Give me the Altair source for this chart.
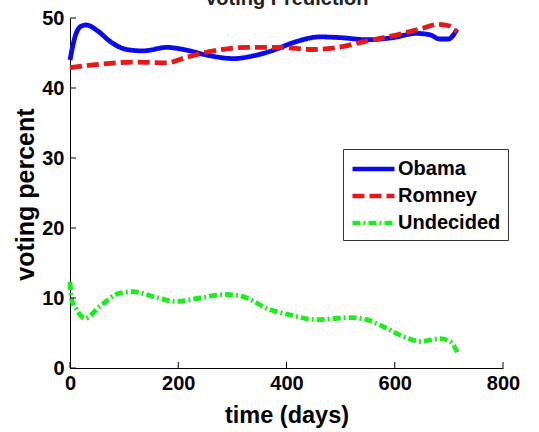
import altair as alt
import pandas as pd

# Poll-based voting prediction over time
obama_days = [0, 10, 20, 30, 52, 75, 105, 135, 179, 216, 253, 302, 339, 376, 413,
              462, 499, 548, 597, 640, 665, 683, 699, 715]
obama_pct = [44.0, 47.5, 48.8, 49.0, 48.1, 46.6, 45.5, 45.3, 45.8, 45.4, 44.7, 44.2,
             44.6, 45.4, 46.5, 47.3, 47.2, 46.9, 47.2, 47.8, 47.6, 47.0, 47.0, 48.4]

romney_days = [0, 55, 117, 179, 216, 265, 327, 388, 449, 486, 548, 610, 650, 680,
               700, 715]
romney_pct = [42.9, 43.4, 43.7, 43.6, 44.4, 45.3, 45.8, 45.8, 45.5, 45.7, 46.7, 47.7,
              48.5, 49.1, 48.9, 48.0]

undecided_days = [0, 3, 11, 28, 55, 92, 117, 154, 197, 240, 290, 327, 364, 406, 456,
                  517, 548, 579, 610, 647, 684, 702, 717]
undecided_pct = [12.3, 9.8, 8.5, 7.1, 8.8, 10.7, 10.9, 10.2, 9.5, 10.0, 10.5, 10.0,
                 8.5, 7.6, 6.9, 7.2, 6.9, 5.9, 4.7, 3.8, 4.2, 3.8, 2.1]

series_names = ["Obama", "Romney", "Undecided"]
series_colors = ["#0b0be8", "#e81818", "#1cee1c"]
series_dashes = [[1, 0], [12, 5], [8, 3, 2, 3]]

x_ticks = [0, 200, 400, 600, 800]
y_ticks = [0, 10, 20, 30, 40, 50]

chart_title = "Voting Prediction"

frames = []
for name, days, pct in [("Obama", obama_days, obama_pct),
                        ("Romney", romney_days, romney_pct),
                        ("Undecided", undecided_days, undecided_pct)]:
    frames.append(pd.DataFrame({"day": days, "pct": pct, "series": name}))
df = pd.concat(frames, ignore_index=True)

FONT = "Liberation Sans"

x_scale = alt.Scale(domain=[0, 800], nice=False, zero=False)
y_scale = alt.Scale(domain=[0, 50], nice=False)

legend = alt.Legend(
    title=None, orient="none", legendX=273, legendY=131,
    symbolType="M-1,0L3,0", symbolSize=441, symbolStrokeWidth=4.5,
    labelFont=FONT, labelFontSize=20, labelFontWeight="bold", labelColor="black",
    labelOffset=22, rowPadding=4, padding=7,
    strokeColor="#333333", fillColor="white",
)

lines = alt.Chart(df).mark_line(strokeWidth=4.8, interpolate="monotone").encode(
    x=alt.X("day:Q", scale=x_scale,
            axis=alt.Axis(values=x_ticks, title="time (days)", ticks=False,
                          grid=False, labelPadding=5, labelFlush=False,
                          titleFontSize=23.5,
                          titleX=216.5, titleY=54, titleBaseline="alphabetic")),
    y=alt.Y("pct:Q", scale=y_scale,
            axis=alt.Axis(values=y_ticks, title="voting percent", ticks=False,
                          grid=False, labelPadding=6, labelFlush=False,
                          titleFontSize=25,
                          titleX=-37, titleY=176, titleAngle=-90,
                          titleAlign="center", titleBaseline="alphabetic")),
    color=alt.Color("series:N", scale=alt.Scale(domain=series_names, range=series_colors),
                    legend=legend),
    strokeDash=alt.StrokeDash("series:N",
                              scale=alt.Scale(domain=series_names, range=series_dashes),
                              legend=legend),
    order=alt.Order("day:Q"),
)

# inward-pointing tick marks on the bottom and left axes
xtick_df = pd.DataFrame({"t": x_ticks})
ytick_df = pd.DataFrame({"t": y_ticks})
xticks = alt.Chart(xtick_df).mark_rule(color="black", strokeWidth=1).encode(
    x=alt.X("t:Q", scale=x_scale), y=alt.value(350), y2=alt.value(344))
yticks = alt.Chart(ytick_df).mark_rule(color="black", strokeWidth=1).encode(
    y=alt.Y("t:Q", scale=y_scale), x=alt.value(0), x2=alt.value(6))

# chart heading, sitting at the very top edge of the page
heading = alt.Chart(pd.DataFrame({"label": [chart_title]})).mark_text(
    font=FONT, fontSize=20, fontWeight="bold", color="#222222",
    align="center", baseline="alphabetic",
).encode(x=alt.value(216.5), y=alt.value(-13), text="label:N")

chart = alt.layer(lines, xticks, yticks, heading).properties(
    width=433, height=350,
    background="white",
    autosize=alt.AutoSizeParams(type="none"),
    padding={"left": 70, "top": 18, "right": 36, "bottom": 64},
).configure_view(stroke=None).configure_axis(
    labelFont=FONT, labelFontSize=20, labelFontWeight="bold", labelColor="black",
    titleFont=FONT, titleFontSize=22, titleFontWeight="bold", titleColor="black",
    domainColor="black", domainWidth=1,
)

chart.save("out.html", embed_options={"renderer": "svg", "actions": False})
